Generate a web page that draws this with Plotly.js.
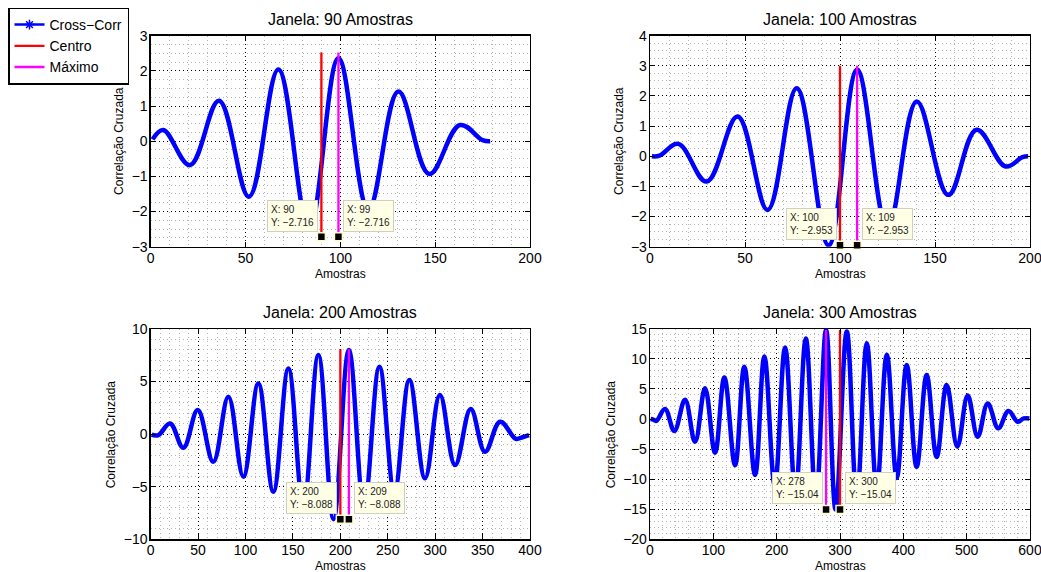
<!DOCTYPE html>
<html>
<head>
<meta charset="utf-8">
<script src="https://cdn.plot.ly/plotly-3.0.1.min.js"></script>
<style>
  html, body { margin: 0; padding: 0; background: #fff; }
  #chart { width: 1041px; height: 572px; }
</style>
</head>
<body>
<div id="chart"></div>
<script>
// Cross-correlation per window size: turning points (lag in samples, correlation value)
const lag90  = [1, 6.6, 20.7, 36, 51.8, 67.3, 83.5, 99, 114.8, 130.6, 146.9, 163.1, 175, 179];
const xc90   = [0.05, 0.32, -0.68, 1.15, -1.58, 2.04, -2.5, 2.36, -1.95, 1.41, -0.93, 0.46, 0.03, 0];

const lag100 = [1, 5, 14.9, 29.8, 46.1, 61.9, 77.2, 94, 109, 125, 140.4, 157, 171.9, 187.2, 196, 199];
const xc100  = [0, 0.02, 0.41, -0.84, 1.32, -1.78, 2.26, -2.953, 2.87, -2.4, 1.82, -1.28, 0.88, -0.34, -0.03, 0];

const lag200 = [1, 8, 20.4, 34.4, 49.6, 66, 81.9, 97.7, 113.5, 129.3, 145.2, 161, 176.8, 192.8, 209, 225, 241.2, 257, 272.8, 289.3, 305, 321, 337.5, 352.6, 368.5, 385, 392, 399];
const xc200  = [-0.05, -0.1, 1.0, -1.3, 2.28, -2.63, 3.54, -4.05, 4.8, -5.48, 6.23, -6.9, 7.5, -8.088, 7.98, -6.8, 6.4, -5.5, 5.13, -4.2, 3.7, -2.95, 2.37, -1.68, 1.17, -0.45, -0.3, -0.1];

const lag300 = [1, 5, 10, 23.7, 38.4, 55.3, 71.1, 86.9, 102.7, 117.4, 134.3, 148.9, 165.9, 180.6, 197, 213.3, 229.7, 246, 262, 278, 293, 310.7, 326.5, 342.3, 358, 373.9, 389.6, 405.3, 421, 436.8, 452.6, 468.4, 485.3, 501.6, 517.4, 533.2, 550, 565.9, 580.6, 590, 599];
const xc300  = [0, -0.1, -0.3, 1.67, -2.0, 3.2, -3.8, 5.1, -5.6, 6.9, -7.7, 8.7, -9.3, 10.4, -11.1, 11.9, -12.4, 13.4, -13.6, 14.8, -15.04, 14.55, -13.3, 12.6, -11.6, 10.7, -9.8, 9.0, -7.95, 7.3, -6.3, 5.67, -4.6, 3.9, -2.95, 2.6, -1.55, 1.33, -0.45, 0.1, 0.1];

// Window sizes, centre lag, lag of the maximum, data-tip value and top of the marker lines
const janelas = [90, 100, 200, 300];
const centro  = [90, 100, 200, 300];
const maximo  = [99, 109, 209, 278];
const tipY    = [-2.716, -2.953, -8.088, -15.04];
const lineTop = [2.52, 3.0, 8.05, 14.8];

// Axis ranges and tick spacing per panel
const xRanges = [[0, 200], [0, 200], [0, 400], [0, 600]];
const yRanges = [[-3, 3], [-3, 4], [-10, 10], [-20, 15]];
const xDtick  = [50, 50, 50, 100];
const xMinor  = [10, 10, 10, 20];
const yDtick  = [1, 1, 5, 5];
const yMinor  = [0.25, 0.25, 1, 1];

const lags = [lag90, lag100, lag200, lag300];
const vals = [xc90, xc100, xc200, xc300];

const FONT = 'Liberation Sans, Arial, Helvetica, sans-serif';
const W = 1041, H = 572;
// panel boxes in pixels: [left, right, top, bottom]
const boxes = [
  [150.7, 530, 35.7, 246.7],
  [650, 1030, 35.7, 246.7],
  [150.7, 530, 328.8, 539.3],
  [650, 1030, 328.8, 539.3]
];

const minus = v => String(v).replace('-', '\u2212');

const traces = [];
// legend entry for the correlation curve (line with marker)
traces.push({
  x: [null], y: [null], mode: 'lines+markers', name: 'Cross\u2212Corr',
  line: {color: '#0000ff', width: 2.5},
  marker: {symbol: 'asterisk-open', size: 8, color: '#0000ff', line: {color: '#0000ff', width: 1.5}},
  xaxis: 'x', yaxis: 'y', hoverinfo: 'skip'
});

const layout = {
  width: W, height: H,
  margin: {l: 0, r: 0, t: 0, b: 0},
  paper_bgcolor: '#fff', plot_bgcolor: '#fff',
  font: {family: FONT, size: 14, color: '#000'},
  showlegend: true,
  legend: {
    x: 8 / W, y: 1 - 7.5 / H, xanchor: 'left', yanchor: 'top',
    bgcolor: '#fff', bordercolor: '#000', borderwidth: 1.5,
    font: {family: FONT, size: 14, color: '#000'},
    tracegroupgap: 0, itemwidth: 30
  },
  annotations: [],
  shapes: []
};

for (let i = 0; i < 4; i++) {
  const sfx = i === 0 ? '' : String(i + 1);
  const xa = 'x' + sfx, ya = 'y' + sfx;
  const [L, R, T, B] = boxes[i];

  const common = {
    showline: true, mirror: 'ticks', linecolor: '#000', linewidth: 1.3,
    ticks: 'inside', ticklen: 5, tickwidth: 1, tickcolor: '#000',
    showgrid: true, gridcolor: '#000', griddash: '1px,3px', gridwidth: 1,
    zeroline: false, autorange: false, fixedrange: true,
    ticklabeloverflow: 'allow',
    tickfont: {family: FONT, size: 14, color: '#000'}
  };

  layout['xaxis' + sfx] = Object.assign({}, common, {
    domain: [L / W, R / W], anchor: ya,
    range: xRanges[i], tick0: 0, dtick: xDtick[i],
    ticklabelstandoff: -2,
    minor: {dtick: xMinor[i], tick0: 0, showgrid: true, gridcolor: '#b4b4b4', griddash: '1px,3px', gridwidth: 1, ticks: ''}
  });
  layout['yaxis' + sfx] = Object.assign({}, common, {
    domain: [1 - B / H, 1 - T / H], anchor: xa,
    range: yRanges[i], tick0: 0, dtick: yDtick[i],
    ticklabelstandoff: -1,
    minor: {dtick: yMinor[i], tick0: 0, showgrid: true, gridcolor: '#b4b4b4', griddash: '1px,3px', gridwidth: 1, ticks: ''}
  });

  // correlation curve, smoothed through its turning points
  traces.push({
    x: lags[i], y: vals[i], mode: 'lines', showlegend: false,
    line: {color: '#0000ff', width: 4.5, shape: 'spline', smoothing: 1.1},
    xaxis: xa, yaxis: ya, hoverinfo: 'skip'
  });
  // centre and maximum lines
  traces.push({
    x: [centro[i], centro[i]], y: [tipY[i], lineTop[i]], mode: 'lines',
    name: 'Centro', showlegend: i === 0, line: {color: '#ff0000', width: 2.3},
    xaxis: xa, yaxis: ya, hoverinfo: 'skip'
  });
  traces.push({
    x: [maximo[i], maximo[i]], y: [tipY[i], lineTop[i]], mode: 'lines',
    name: 'M\u00e1ximo', showlegend: i === 0, line: {color: '#ff00ff', width: 2.3},
    xaxis: xa, yaxis: ya, hoverinfo: 'skip'
  });
  // data-tip anchors
  traces.push({
    x: [centro[i], maximo[i]], y: [tipY[i], tipY[i]], mode: 'markers', showlegend: false,
    marker: {symbol: 'square', size: 8, color: '#000', line: {color: '#fffbd0', width: 1.5}},
    xaxis: xa, yaxis: ya, hoverinfo: 'skip', cliponaxis: false
  });

  // data-tip boxes: the lower lag sits left of its point, the higher one right
  const tips = [centro[i], maximo[i]].sort((a, b) => a - b);
  tips.forEach((lx, k) => {
    layout.annotations.push({
      x: lx, y: tipY[i], xref: xa, yref: ya,
      text: 'X: ' + lx + '<br>Y: ' + minus(tipY[i]),
      showarrow: false, align: 'left',
      xanchor: k === 0 ? 'right' : 'left', yanchor: 'bottom',
      xshift: k === 0 ? -3 : 5, yshift: 5,
      bgcolor: '#ffffe6', bordercolor: '#cfcfc4', borderwidth: 1, borderpad: 3,
      font: {family: FONT, size: 10, color: '#222'}
    });
  });

  // panel title
  layout.annotations.push({
    x: ((L + R) / 2) / W, y: 1 - (T - 16.5) / H, xref: 'paper', yref: 'paper',
    text: 'Janela: ' + janelas[i] + ' Amostras', showarrow: false,
    xanchor: 'center', yanchor: 'middle',
    font: {family: FONT, size: 16, color: '#000'}
  });
  // x label
  layout.annotations.push({
    x: ((L + R) / 2) / W, y: 1 - (B + 27) / H, xref: 'paper', yref: 'paper',
    text: 'Amostras', showarrow: false, xanchor: 'center', yanchor: 'middle',
    font: {family: FONT, size: 12, color: '#000'}
  });
  // y label
  const yl = [118.7, 618.7, 111.3, 611.3][i];
  layout.annotations.push({
    x: yl / W, y: 1 - ((T + B) / 2) / H, xref: 'paper', yref: 'paper',
    text: 'Correla\u00e7\u00e3o Cruzada', showarrow: false, textangle: -90,
    xanchor: 'center', yanchor: 'middle',
    font: {family: FONT, size: 12, color: '#000'}
  });
}

Plotly.newPlot('chart', traces, layout, {staticPlot: true, displayModeBar: false});
</script>
</body>
</html>
